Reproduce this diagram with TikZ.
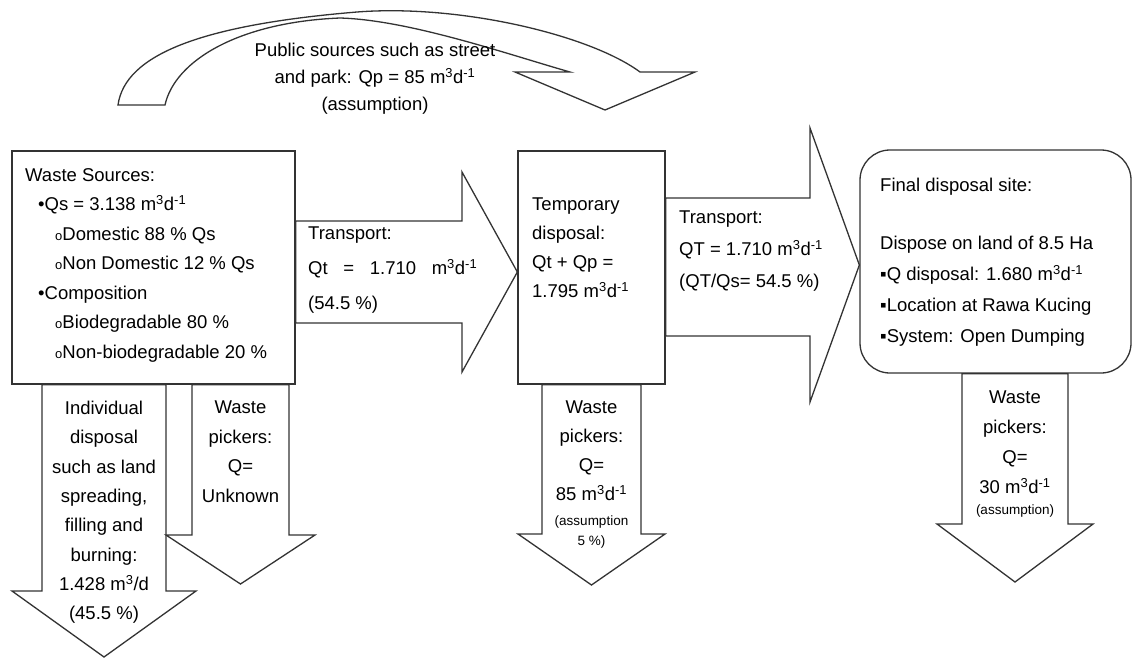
\documentclass[tikz,border=0pt]{standalone}
\usepackage{fontspec}
\setmainfont{Liberation Sans}
\usetikzlibrary{positioning, calc}
\newcommand{\obul}{{\fontsize{13}{0}\selectfont o}}

\begin{document}
\begin{tikzpicture}[
    x=1pt, y=-1pt,
    box/.style={rectangle, draw=black!80, fill=white, line width=1.3pt, inner sep=0pt},
    endbox/.style={box, rounded corners=30pt},
    blockarrow/.style={draw=black!80, fill=white, line width=1.3pt, line join=miter},
    txt/.style={inner sep=0pt, align=left, font=\fontsize{18.5}{29.5}\selectfont},
    ctxt/.style={txt, align=center},
    smalltxt/.style={inner sep=0pt, align=center, font=\fontsize{13.5}{20}\selectfont}
]
\path[use as bounding box, fill=white] (0,0) rectangle (1134,659);

% Curved arrow (public sources)
\draw[blockarrow] (118,105) .. controls (125,55) and (200,25) .. (357,12)
    .. controls (460,4) and (590,35) .. (640,72) -- (695,72) -- (605,110) -- (515,72) -- (570,72)
    .. controls (510,55) and (410,20) .. (340,18)
    .. controls (240,22) and (175,60) .. (165,105) -- cycle;
\node[ctxt, font=\fontsize{18.5}{27}\selectfont] (pubtxt) at (375,79)
    {Public sources such as street\\and park: Qp = 85 m\textsuperscript{3}d\textsuperscript{-1}\\(assumption)};

% Boxes
\node[box, minimum width=283pt, minimum height=233pt] (src) at (153.5,267.5) {};
\node[box, minimum width=147pt, minimum height=233pt] (tmp) at (591.5,267.5) {};
\node[endbox, minimum width=271pt, minimum height=223pt] (fin) at (995.5,261.5) {};

% Transport arrows
\draw[blockarrow] (src.east |- 0,221) -- (462,221) -- (462,172) -- (tmp.west |- 0,272)
    -- (462,372) -- (462,323) -- (src.east |- 0,323) -- cycle;
\draw[blockarrow] (tmp.east |- 0,198) -- (810,198) -- (810,128) -- (fin.west |- 0,265)
    -- (810,402) -- (810,336) -- (tmp.east |- 0,336) -- cycle;

% Down arrows
\draw[blockarrow] (src.south -| 42,0) -- (42,591) -- (12,591) -- (104,657) -- (196,591)
    -- (166,591) -- (src.south -| 166,0) -- cycle;
\draw[blockarrow] (src.south -| 192,0) -- (192,535) -- (166,535) -- (240.5,584) -- (315,535)
    -- (289,535) -- (src.south -| 289,0) -- cycle;
\draw[blockarrow] (tmp.south -| 542,0) -- (542,534) -- (518,534) -- (591.5,585) -- (665,534)
    -- (641,534) -- (tmp.south -| 641,0) -- cycle;
\draw[blockarrow] (fin.south -| 962,0) -- (962,524) -- (937,524) -- (1015,582) -- (1093,524)
    -- (1068,524) -- (fin.south -| 1068,0) -- cycle;

% Texts
\node[txt, anchor=north west] (srctxt) at (25,168) {Waste Sources:\\
    \hspace*{13pt}•Qs = 3.138 m\textsuperscript{3}d\textsuperscript{-1}\\
    \hspace*{30pt}\obul Domestic 88 \% Qs\\
    \hspace*{30pt}\obul Non Domestic 12 \% Qs\\
    \hspace*{13pt}•Composition\\
    \hspace*{30pt}\obul Biodegradable 80 \%\\
    \hspace*{30pt}\obul Non-biodegradable 20 \%};
\node[txt, anchor=north west, font=\fontsize{18.5}{35}\selectfont] (tr1txt) at (308,227)
    {Transport:\\\makebox[169pt][s]{Qt = 1.710 m\textsuperscript{3}d\textsuperscript{-1}}\\(54.5 \%)};
\node[txt, anchor=north west, font=\fontsize{18.5}{29}\selectfont] (tmptxt) at (532,198)
    {Temporary\\disposal:\\Qt + Qp =\\1.795 m\textsuperscript{3}d\textsuperscript{-1}};
\node[txt, anchor=north west, font=\fontsize{18.5}{32}\selectfont] (tr2txt) at (679,211)
    {Transport:\\QT = 1.710 m\textsuperscript{3}d\textsuperscript{-1}\\(QT/Qs= 54.5 \%)};
\node[txt, anchor=north west, font=\fontsize{18.5}{31}\selectfont] (fintxt) at (880,178)
    {Final disposal site:\\[27pt]Dispose on land of 8.5 Ha\\
    ▪Q disposal: 1.680 m\textsuperscript{3}d\textsuperscript{-1}\\▪Location at Rawa Kucing\\▪System: Open Dumping};
\node[ctxt, anchor=north, font=\fontsize{18.5}{29.3}\selectfont] (indtxt) at (104,401)
    {Individual\\disposal\\such as land\\spreading,\\filling and\\burning:\\1.428 m\textsuperscript{3}/d\\(45.5 \%)};
\node[ctxt, anchor=north] (srcpick) at (240.5,401) {Waste\\pickers:\\Q=\\Unknown};
\node[ctxt, anchor=north, font=\fontsize{18.5}{29}\selectfont] (tmppick) at (591.5,401)
    {Waste\\pickers:\\Q=\\85 m\textsuperscript{3}d\textsuperscript{-1}};
\node[smalltxt, below=14pt of tmppick] (tmpnote) {(assumption\\5 \%)};
\node[ctxt, anchor=north, font=\fontsize{18.5}{30}\selectfont] (finpick) at (1015,391)
    {Waste\\pickers:\\Q=\\30 m\textsuperscript{3}d\textsuperscript{-1}};
\node[smalltxt, below=10pt of finpick] (finnote) {(assumption)};

\end{tikzpicture}
\end{document}
